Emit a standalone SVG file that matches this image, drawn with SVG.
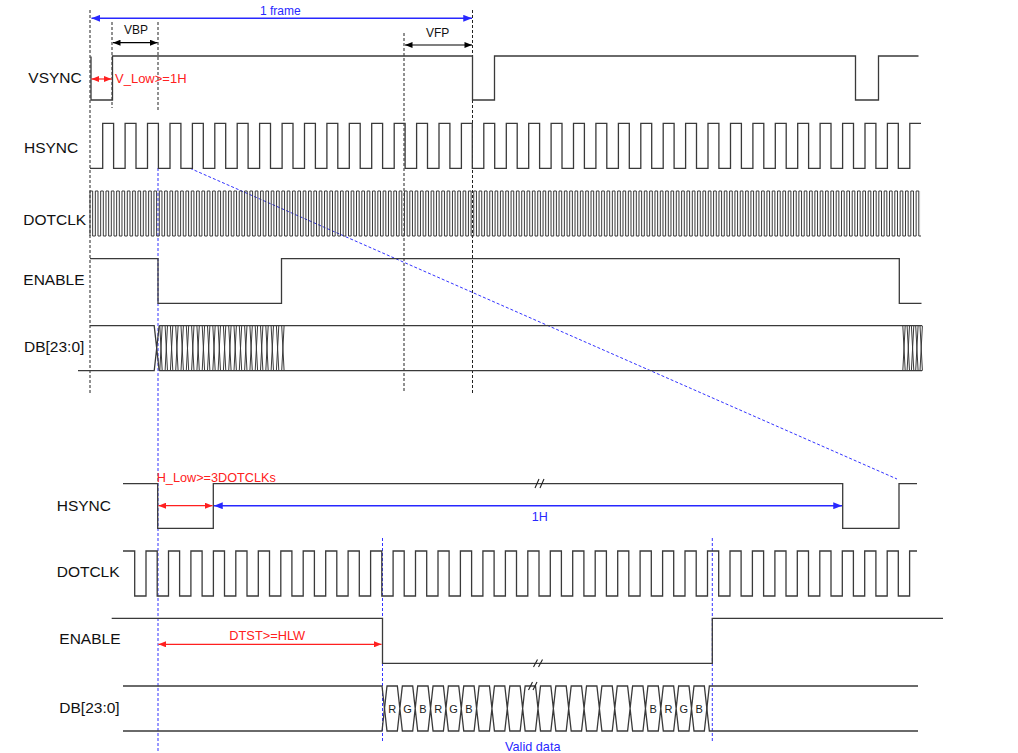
<svg xmlns="http://www.w3.org/2000/svg" width="1018" height="753" viewBox="0 0 1018 753">
<style>
.sig{fill:none;stroke:#3a3a3a;stroke-width:1.3;stroke-linejoin:miter}
.clk{fill:none;stroke:#3a3a3a;stroke-width:1}
.dash{fill:none;stroke:#222;stroke-width:1;stroke-dasharray:3,2}
.bdash{fill:none;stroke:#3333ff;stroke-width:1;stroke-dasharray:3,2}
.lbl{font-family:"Liberation Sans",Arial,sans-serif;font-size:15.5px;fill:#111}
.sm{font-family:"Liberation Sans",Arial,sans-serif;font-size:12px;fill:#111}
.red{font-family:"Liberation Sans",Arial,sans-serif;font-size:12.8px;fill:#ff2020}
.blue{font-family:"Liberation Sans",Arial,sans-serif;font-size:12.5px;fill:#2828ff}
.rgb{font-family:"Liberation Sans",Arial,sans-serif;font-size:11px;fill:#222;text-anchor:middle}
.ka{stroke:#000;stroke-width:1.2;fill:none}
.ra{stroke:#ff2020;stroke-width:1.2;fill:none}
.ba{stroke:#2828ff;stroke-width:1.4;fill:none}
.brk{stroke:#222;stroke-width:1.1;fill:none}
</style>
<defs>
<marker id="mk" viewBox="0 0 10 8" refX="10" refY="4" markerWidth="8" markerHeight="6" markerUnits="userSpaceOnUse" orient="auto-start-reverse"><path d="M0,0L10,4L0,8z" fill="#000"/></marker>
<marker id="mr" viewBox="0 0 10 8" refX="10" refY="4" markerWidth="8" markerHeight="6" markerUnits="userSpaceOnUse" orient="auto-start-reverse"><path d="M0,0L10,4L0,8z" fill="#ff2020"/></marker>
<marker id="mb" viewBox="0 0 10 8" refX="10" refY="4" markerWidth="9" markerHeight="7" markerUnits="userSpaceOnUse" orient="auto-start-reverse"><path d="M0,0L10,4L0,8z" fill="#2828ff"/></marker>
<clipPath id="clkclip"><rect x="80" y="180" width="841" height="70"/></clipPath>
</defs>
<rect width="1018" height="753" fill="#fff"/>

<g id="guides">
<line class="dash" x1="90" y1="10" x2="90" y2="393"/>
<line class="dash" x1="112" y1="22" x2="112" y2="108"/>
<line class="dash" x1="158" y1="22" x2="158" y2="110"/>
<line class="dash" x1="404" y1="33" x2="404" y2="393"/>
<line class="dash" x1="472.5" y1="10" x2="472.5" y2="393"/>
<line class="bdash" x1="158" y1="168" x2="158" y2="753"/>
<line class="bdash" x1="382.5" y1="538" x2="382.5" y2="742"/>
<line class="bdash" x1="712.3" y1="538" x2="712.3" y2="742"/>
<line class="bdash" x1="190" y1="168.3" x2="897" y2="479"/>
</g>

<g id="top-vsync">
<text class="lbl" x="28.3" y="83.3">VSYNC</text>
<path class="sig" d="M91,56.5V100H112.5V56H472.5V100H494.5V56H855.5V100H878.5V56H918.5"/>
</g>
<g id="top-hsync">
<text class="lbl" x="24" y="153.3">HSYNC</text>
<path class="sig" d="M90,168.3H102.7V123.3H113.6V168.3H125.1V123.3H136.0V168.3H147.5V123.3H158.4V168.3H170.0V123.3H180.9V168.3H192.4V123.3H203.3V168.3H214.8V123.3H225.7V168.3H237.2V123.3H248.1V168.3H259.6V123.3H270.5V168.3H282.1V123.3H293.0V168.3H304.5V123.3H315.4V168.3H326.9V123.3H337.8V168.3H349.3V123.3H360.2V168.3H371.7V123.3H382.6V168.3H394.2V123.3H405.1V168.3H416.6V123.3H427.5V168.3H439.0V123.3H449.9V168.3H461.4V123.3H472.3V168.3H483.8V123.3H494.7V168.3H506.3V123.3H517.2V168.3H528.7V123.3H539.6V168.3H551.1V123.3H562.0V168.3H573.5V123.3H584.4V168.3H595.9V123.3H606.8V168.3H618.4V123.3H629.3V168.3H640.8V123.3H651.7V168.3H663.2V123.3H674.1V168.3H685.6V123.3H696.5V168.3H708.0V123.3H718.9V168.3H730.5V123.3H741.4V168.3H752.9V123.3H763.8V168.3H775.3V123.3H786.2V168.3H797.7V123.3H808.6V168.3H820.1V123.3H831.0V168.3H842.6V123.3H853.5V168.3H865.0V123.3H875.9V168.3H887.4V123.3H898.3V168.3H909.8V123.3H921"/>
</g>
<g id="top-dotclk">
<text class="lbl" x="23.3" y="225">DOTCLK</text>
<path class="clk" clip-path="url(#clkclip)" d="M90,236V191h2.665V236h2.665V191h2.665V236h2.665V191h2.665V236h2.665V191h2.665V236h2.665V191h2.665V236h2.665V191h2.665V236h2.665V191h2.665V236h2.665V191h2.665V236h2.665V191h2.665V236h2.665V191h2.665V236h2.665V191h2.665V236h2.665V191h2.665V236h2.665V191h2.665V236h2.665V191h2.665V236h2.665V191h2.665V236h2.665V191h2.665V236h2.665V191h2.665V236h2.665V191h2.665V236h2.665V191h2.665V236h2.665V191h2.665V236h2.665V191h2.665V236h2.665V191h2.665V236h2.665V191h2.665V236h2.665V191h2.665V236h2.665V191h2.665V236h2.665V191h2.665V236h2.665V191h2.665V236h2.665V191h2.665V236h2.665V191h2.665V236h2.665V191h2.665V236h2.665V191h2.665V236h2.665V191h2.665V236h2.665V191h2.665V236h2.665V191h2.665V236h2.665V191h2.665V236h2.665V191h2.665V236h2.665V191h2.665V236h2.665V191h2.665V236h2.665V191h2.665V236h2.665V191h2.665V236h2.665V191h2.665V236h2.665V191h2.665V236h2.665V191h2.665V236h2.665V191h2.665V236h2.665V191h2.665V236h2.665V191h2.665V236h2.665V191h2.665V236h2.665V191h2.665V236h2.665V191h2.665V236h2.665V191h2.665V236h2.665V191h2.665V236h2.665V191h2.665V236h2.665V191h2.665V236h2.665V191h2.665V236h2.665V191h2.665V236h2.665V191h2.665V236h2.665V191h2.665V236h2.665V191h2.665V236h2.665V191h2.665V236h2.665V191h2.665V236h2.665V191h2.665V236h2.665V191h2.665V236h2.665V191h2.665V236h2.665V191h2.665V236h2.665V191h2.665V236h2.665V191h2.665V236h2.665V191h2.665V236h2.665V191h2.665V236h2.665V191h2.665V236h2.665V191h2.665V236h2.665V191h2.665V236h2.665V191h2.665V236h2.665V191h2.665V236h2.665V191h2.665V236h2.665V191h2.665V236h2.665V191h2.665V236h2.665V191h2.665V236h2.665V191h2.665V236h2.665V191h2.665V236h2.665V191h2.665V236h2.665V191h2.665V236h2.665V191h2.665V236h2.665V191h2.665V236h2.665V191h2.665V236h2.665V191h2.665V236h2.665V191h2.665V236h2.665V191h2.665V236h2.665V191h2.665V236h2.665V191h2.665V236h2.665V191h2.665V236h2.665V191h2.665V236h2.665V191h2.665V236h2.665V191h2.665V236h2.665V191h2.665V236h2.665V191h2.665V236h2.665V191h2.665V236h2.665V191h2.665V236h2.665V191h2.665V236h2.665V191h2.665V236h2.665V191h2.665V236h2.665V191h2.665V236h2.665V191h2.665V236h2.665V191h2.665V236h2.665V191h2.665V236h2.665V191h2.665V236h2.665V191h2.665V236h2.665V191h2.665V236h2.665V191h2.665V236h2.665V191h2.665V236h2.665V191h2.665V236h2.665V191h2.665V236h2.665V191h2.665V236h2.665V191h2.665V236h2.665V191h2.665V236h2.665V191h2.665V236h2.665V191h2.665V236h2.665V191h2.665V236h2.665V191h2.665V236h2.665V191h2.665V236h2.665V191h2.665V236h2.665V191h2.665V236h2.665V191h2.665V236h2.665V191h2.665V236h2.665V191h2.665V236h2.665V191h2.665V236h2.665V191h2.665V236h2.665V191h2.665V236h2.665V191h2.665V236h2.665V191h2.665V236h2.665V191h2.665V236h2.665V191h2.665V236h2.665V191h2.665V236h2.665V191h2.665V236h2.665V191h2.665V236h2.665V191h2.665V236h2.665V191h2.665V236h2.665V191h2.665V236h2.665V191h2.665V236h2.665V191h2.665V236h2.665V191h2.665V236h2.665V191h2.665V236h2.665V191h2.665V236h2.665V191h2.665V236h2.665V191h2.665V236h2.665V191h2.665V236h2.665V191h2.665V236h2.665V191h2.665V236h2.665V191h2.665V236h2.665V191h2.665V236h2.665V191h2.665V236h2.665V191h2.665V236h2.665V191h2.665V236h2.665V191h2.665V236h2.665V191h2.665V236h2.665V191h2.665V236h2.665V191h2.665V236h2.665V191h2.665V236h2.665V191h2.665V236h2.665V191h2.665V236h2.665V191h2.665V236h2.665V191h2.665V236h2.665V191h2.665V236h2.665V191h2.665V236h2.665V191h2.665V236h2.665V191h2.665V236h2.665V191h2.665V236h2.665V191h2.665V236h2.665V191h2.665V236h2.665V191h2.665V236h2.665V191h2.665V236h2.665V191h2.665V236h2.665V191h2.665V236h2.665V191h2.665V236h2.665V191h2.665V236h2.665V191h2.665V236h2.665V191h2.665V236h2.665V191h2.665V236h2.665V191h2.665V236h2.665V191h2.665V236h2.665V191h2.665V236h2.665V191h2.665V236h2.665V191h2.665V236h2.665V191h2.665V236h2.665V191h2.665V236h2.665V191h2.665V236h2.665V191h2.665V236h2.665V191h2.665V236h2.665V191h2.665V236h2.665V191h2.665V236h2.665V191h2.665V236h2.665V191h2.665V236h2.665V191h2.665V236h2.665V191h2.665V236h2.665V191h2.665V236h2.665V191h2.665V236h2.665V191h2.665V236h2.665V191h2.665V236h2.665V191h2.665V236h2.665V191h2.665V236h2.665V191h2.665V236h2.665V191h2.665V236h2.665V191h2.665V236h2.665"/>
</g>
<g id="top-enable">
<text class="lbl" x="23.3" y="285.3">ENABLE</text>
<path class="sig" d="M90,258.7H158V303.3H281.5V258.7H899.3V303.3H921.5"/>
</g>
<g id="top-db">
<text class="lbl" x="24" y="352">DB[23:0]</text>
<path class="sig" d="M90,325.7H154.2L159.2,370.7M78,370.7H154.2L159.2,325.7M159.2,325.7H922M159.2,370.7H922"/>
<path class="clk" d="M159.8,325.7l2.4,45m-2.4,0l2.4,-45m2.9,0l2.4,45m-2.4,0l2.4,-45m2.9,0l2.4,45m-2.4,0l2.4,-45m2.9,0l2.4,45m-2.4,0l2.4,-45m2.9,0l2.4,45m-2.4,0l2.4,-45m2.9,0l2.4,45m-2.4,0l2.4,-45m2.9,0l2.4,45m-2.4,0l2.4,-45m2.9,0l2.4,45m-2.4,0l2.4,-45m2.9,0l2.4,45m-2.4,0l2.4,-45m2.9,0l2.4,45m-2.4,0l2.4,-45m2.9,0l2.4,45m-2.4,0l2.4,-45m2.9,0l2.4,45m-2.4,0l2.4,-45m2.9,0l2.4,45m-2.4,0l2.4,-45m2.9,0l2.4,45m-2.4,0l2.4,-45m2.9,0l2.4,45m-2.4,0l2.4,-45m2.9,0l2.4,45m-2.4,0l2.4,-45m2.9,0l2.4,45m-2.4,0l2.4,-45m2.9,0l2.4,45m-2.4,0l2.4,-45m2.9,0l2.4,45m-2.4,0l2.4,-45m2.9,0l2.4,45m-2.4,0l2.4,-45m2.9,0l2.4,45m-2.4,0l2.4,-45m2.9,0l2.4,45m-2.4,0l2.4,-45m2.9,0l2.4,45m-2.4,0l2.4,-45m2.9,0l2.4,45m-2.4,0l2.4,-45m2.9,0M902.8,325.7l2.4,45m-2.4,0l2.4,-45m1.9,0l2.4,45m-2.4,0l2.4,-45m1.9,0l2.4,45m-2.4,0l2.4,-45m1.9,0l2.4,45m-2.4,0l2.4,-45m1.9,0l2.4,45m-2.4,0l2.4,-45"/>
</g>

<g id="bottom-hsync">
<text class="lbl" x="56.7" y="510.7">HSYNC</text>
<path class="sig" d="M123,483.7H157.7V528.3H213.3V483.7H842.7V528.3H899V483.7H917"/>
<path class="brk" d="M535,488L539,479M540,488L544,479"/>
</g>
<g id="bottom-dotclk">
<text class="lbl" x="56.7" y="577">DOTCLK</text>
<path class="sig" d="M123,551H134.7V596H146.0V551H157.2V596H168.5V551H179.6V596H190.9V551H202.1V596H213.4V551H224.5V596H235.8V551H247.0V596H258.3V551H269.5V596H280.8V551H291.9V596H303.2V551H314.4V596H325.7V551H336.8V596H348.1V551H359.3V596H370.6V551H381.8V596H393.1V551H404.2V596H415.5V551H426.7V596H438.0V551H449.1V596H460.4V551H471.6V596H482.9V551H494.1V596H505.4V551H516.5V596H527.8V551H539.0V596H550.3V551H561.4V596H572.7V551H583.9V596H595.2V551H606.4V596H617.7V551H628.8V596H640.1V551H651.3V596H662.6V551H673.7V596H685.0V551H696.2V596H707.5V551H718.7V596H730.0V551H741.1V596H752.4V551H763.6V596H774.9V551H786.0V596H797.3V551H808.5V596H819.8V551H831.0V596H842.3V551H853.4V596H864.7V551H875.9V596H887.2V551H898.3V596H909.6V551H917"/>
</g>
<g id="bottom-enable">
<text class="lbl" x="59.3" y="644">ENABLE</text>
<path class="sig" d="M111.7,618.3H382.5V663.3H712.3V618.3H943"/>
<path class="brk" d="M533.5,667L537.5,659.5M538.5,667L542.5,659.5"/>
</g>
<g id="bottom-db">
<text class="lbl" x="59.3" y="713">DB[23:0]</text>
<path class="sig" d="M123,686H382L384.5,708.5L382,731H123M706.85,708.5L709.35,686H918M706.85,708.5L709.35,731H918"/>
<path class="sig" d="M384.5,708.5l2.5,-22.5h10.35l2.5,22.5l-2.5,22.5h-10.35zm15.35,0l2.5,-22.5h10.35l2.5,22.5l-2.5,22.5h-10.35zm15.35,0l2.5,-22.5h10.35l2.5,22.5l-2.5,22.5h-10.35zm15.35,0l2.5,-22.5h10.35l2.5,22.5l-2.5,22.5h-10.35zm15.35,0l2.5,-22.5h10.35l2.5,22.5l-2.5,22.5h-10.35zm15.35,0l2.5,-22.5h10.35l2.5,22.5l-2.5,22.5h-10.35zm15.35,0l2.5,-22.5h10.35l2.5,22.5l-2.5,22.5h-10.35zm15.35,0l2.5,-22.5h10.35l2.5,22.5l-2.5,22.5h-10.35zm15.35,0l2.5,-22.5h10.35l2.5,22.5l-2.5,22.5h-10.35zm15.35,0l2.5,-22.5h10.35l2.5,22.5l-2.5,22.5h-10.35zm15.35,0l2.5,-22.5h10.35l2.5,22.5l-2.5,22.5h-10.35zm15.35,0l2.5,-22.5h10.35l2.5,22.5l-2.5,22.5h-10.35zm15.35,0l2.5,-22.5h10.35l2.5,22.5l-2.5,22.5h-10.35zm15.35,0l2.5,-22.5h10.35l2.5,22.5l-2.5,22.5h-10.35zm15.35,0l2.5,-22.5h10.35l2.5,22.5l-2.5,22.5h-10.35zm15.35,0l2.5,-22.5h10.35l2.5,22.5l-2.5,22.5h-10.35zm15.35,0l2.5,-22.5h10.35l2.5,22.5l-2.5,22.5h-10.35zm15.35,0l2.5,-22.5h10.35l2.5,22.5l-2.5,22.5h-10.35zm15.35,0l2.5,-22.5h10.35l2.5,22.5l-2.5,22.5h-10.35zm15.35,0l2.5,-22.5h10.35l2.5,22.5l-2.5,22.5h-10.35zm15.35,0l2.5,-22.5h10.35l2.5,22.5l-2.5,22.5h-10.35z"/>
<path class="brk" d="M528.5,690L532.5,682M533,690L537,682"/>
<text class="rgb" x="392.2" y="712.7">R</text>
<text class="rgb" x="407.5" y="712.7">G</text>
<text class="rgb" x="422.9" y="712.7">B</text>
<text class="rgb" x="438.2" y="712.7">R</text>
<text class="rgb" x="453.6" y="712.7">G</text>
<text class="rgb" x="468.9" y="712.7">B</text>
<text class="rgb" x="653.1" y="712.7">B</text>
<text class="rgb" x="668.5" y="712.7">R</text>
<text class="rgb" x="683.8" y="712.7">G</text>
<text class="rgb" x="699.2" y="712.7">B</text>
<text class="blue" x="505" y="751" style="font-size:12.7px">Valid data</text>
</g>

<g id="connectors">
<line class="ba" x1="91.5" y1="18.3" x2="472" y2="18.3" marker-start="url(#mb)" marker-end="url(#mb)"/>
<line class="ka" x1="113" y1="42.7" x2="157.5" y2="42.7" marker-start="url(#mk)" marker-end="url(#mk)"/>
<line class="ka" x1="405" y1="45" x2="472" y2="45" marker-start="url(#mk)" marker-end="url(#mk)"/>
<line class="ra" x1="91.5" y1="79" x2="111.5" y2="79" marker-start="url(#mr)" marker-end="url(#mr)"/>
<line class="ra" x1="158.5" y1="505.7" x2="212.5" y2="505.7" marker-start="url(#mr)" marker-end="url(#mr)"/>
<line class="ba" x1="214" y1="505.7" x2="842" y2="505.7" marker-start="url(#mb)" marker-end="url(#mb)"/>
<line class="ra" x1="158.5" y1="644.3" x2="381.5" y2="644.3" marker-start="url(#mr)" marker-end="url(#mr)"/>
</g>

<g id="labels">
<text class="blue" x="260" y="15" style="font-size:12px">1 frame</text>
<text class="sm" x="124" y="34.3">VBP</text>
<text class="sm" x="426" y="37.3">VFP</text>
<text class="red" x="115" y="83.3" style="font-size:13px">V_Low&gt;=1H</text>
<text class="red" x="156.7" y="482" style="font-size:12.7px">H_Low&gt;=3DOTCLKs</text>
<text class="blue" x="531.7" y="520.7">1H</text>
<text class="red" x="229.3" y="640">DTST&gt;=HLW</text>
</g>
</svg>
